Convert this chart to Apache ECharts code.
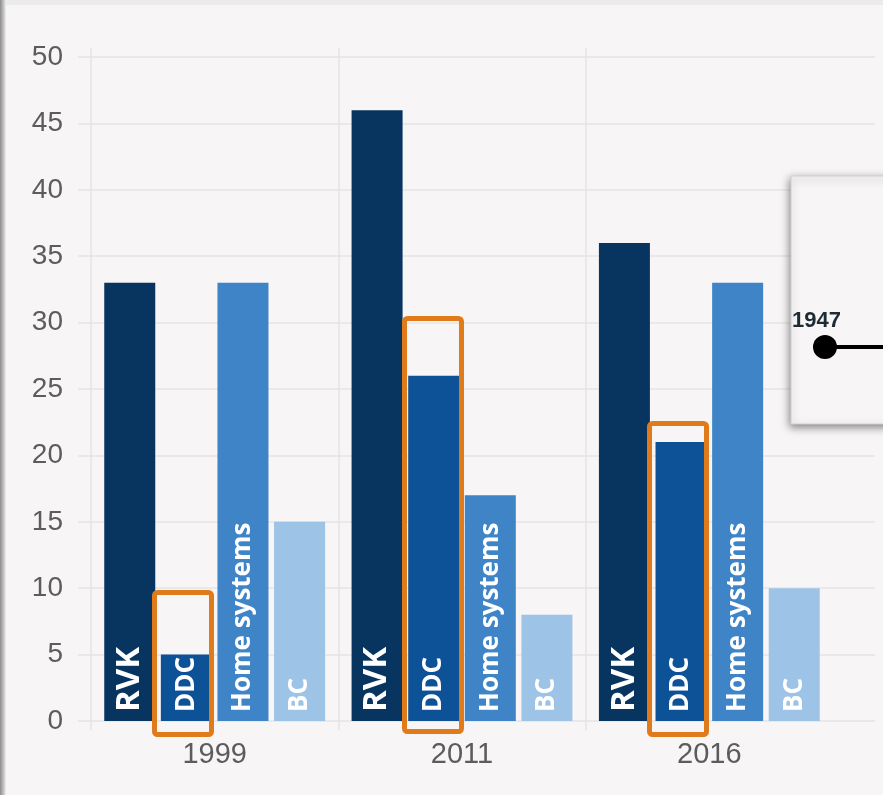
<!DOCTYPE html>
<html>
<head>
<meta charset="utf-8">
<script src="https://cdn.jsdelivr.net/npm/echarts/dist/echarts.min.js"></script>
<style>
html,body{margin:0;padding:0;background:#f7f5f6;}
#chart{width:883px;height:795px;}
</style>
</head>
<body>
<div id="chart"></div>
<script>
// ---- data ----
const categories = ['1999', '2011', '2016'];
const seriesNames = ['RVK', 'DDC', 'Home systems', 'BC'];
const rvkValues = [33, 46, 36];
const ddcValues = [5, 26, 21];
const homeValues = [33, 17, 33];
const bcValues = [15, 8, 10];
const yMin = 0, yMax = 50, yStep = 5;
const insetLabel = '1947';

const colors = ['#07355f', '#0d5196', '#3e84c6', '#9dc3e6'];
const values = [rvkValues, ddcValues, homeValues, bcValues];

const chart = echarts.init(document.getElementById('chart'), null, {renderer: 'canvas'});

const labelBase = {
  show: true,
  position: 'insideBottom',
  rotate: 90,
  align: 'left',
  verticalAlign: 'middle',
  distance: 9,
  color: '#ffffff',
  fontFamily: 'Open Sans',
  fontWeight: 700,
  fontSize: 26,
  formatter: p => p.seriesName
};

const series = seriesNames.map((name, i) => ({
  name: name,
  type: 'bar',
  xAxisIndex: 0,
  yAxisIndex: 0,
  data: values[i],
  barWidth: 51,
  barGap: '11%',
  itemStyle: {color: colors[i]},
  label: i === 0 ? Object.assign({}, labelBase, {fontWeight: 700, fontSize: 33}) : labelBase,
  z: 3
}));

const orange = '#e07b1c';
const orangeRect = (x, y, w, h) => ({
  type: 'rect', z: 50,
  shape: {x: x, y: y, width: w, height: h, r: 3},
  style: {fill: 'none', stroke: orange, lineWidth: 5}
});

const gridLineColor = '#e6e3e4';

chart.setOption({
  backgroundColor: '#f7f5f6',
  animation: false,
  grid: [
    {left: 91, right: 50, top: 48, bottom: 65},
    {left: 78, right: 8, top: 57, bottom: 74},
    // helper grid: vertical guide lines for the first two category bands only
    {left: 91, width: 495, top: 48, bottom: 65}
  ],
  xAxis: [
    {
      type: 'category', gridIndex: 0, data: categories,
      axisLine: {show: false}, axisTick: {show: false},
      axisLabel: {color: '#5c5c5c', fontSize: 29, fontFamily: 'Liberation Sans', margin: 10},
      splitLine: {show: false}
    },
    {
      type: 'value', gridIndex: 1, min: 0, max: 1, show: false
    },
    {
      type: 'category', gridIndex: 2, data: categories.slice(0, 2),
      axisLine: {show: false}, axisTick: {show: false}, axisLabel: {show: false},
      splitLine: {show: true, lineStyle: {color: gridLineColor, width: 1.5}}
    }
  ],
  yAxis: [
    {
      type: 'value', gridIndex: 0, min: -0.68, max: 50.68, show: false,
      splitLine: {show: false}
    },
    {
      type: 'value', gridIndex: 1, min: yMin, max: yMax, interval: yStep,
      axisLine: {show: false}, axisTick: {show: false},
      axisLabel: {color: '#5c5c5c', fontSize: 28, fontFamily: 'Liberation Sans', margin: 15},
      splitLine: {show: true, lineStyle: {color: gridLineColor, width: 1.5}}
    },
    {
      type: 'value', gridIndex: 2, min: 0, max: 1, show: false
    }
  ],
  series: series,
  graphic: [
    // slide edge shadows
    {type: 'rect', z: 60, shape: {x: 0, y: 0, width: 883, height: 5},
      style: {fill: '#ebebeb'}},
    {type: 'rect', z: 61, shape: {x: 0, y: 0, width: 6, height: 795},
      style: {fill: new echarts.graphic.LinearGradient(0, 0, 1, 0, [
        {offset: 0, color: '#8c8c8c'}, {offset: 0.6, color: '#c4c4c4'}, {offset: 1, color: '#f0f0f0'}])}},
    // highlight boxes
    orangeRect(154.5, 592.5, 57, 142),
    orangeRect(404.5, 318.5, 57, 413),
    orangeRect(649.5, 423.5, 57, 311),
    // inset screenshot
    {type: 'rect', z: 70, shape: {x: 791, y: 176, width: 110, height: 248},
      style: {fill: '#f8f5f6', stroke: '#d0d0d0', lineWidth: 1,
        shadowBlur: 8, shadowColor: 'rgba(0,0,0,0.45)', shadowOffsetX: -1, shadowOffsetY: 3}},
    {type: 'line', z: 71, shape: {x1: 825, y1: 347, x2: 885, y2: 347},
      style: {stroke: '#000', lineWidth: 4}},
    {type: 'circle', z: 72, shape: {cx: 825, cy: 347, r: 12}, style: {fill: '#000'}},
    {type: 'text', z: 72, x: 792, y: 310,
      style: {text: insetLabel, fill: '#1d2b33', font: 'bold 22px "Liberation Sans"'}}
  ]
});
</script>
</body>
</html>
